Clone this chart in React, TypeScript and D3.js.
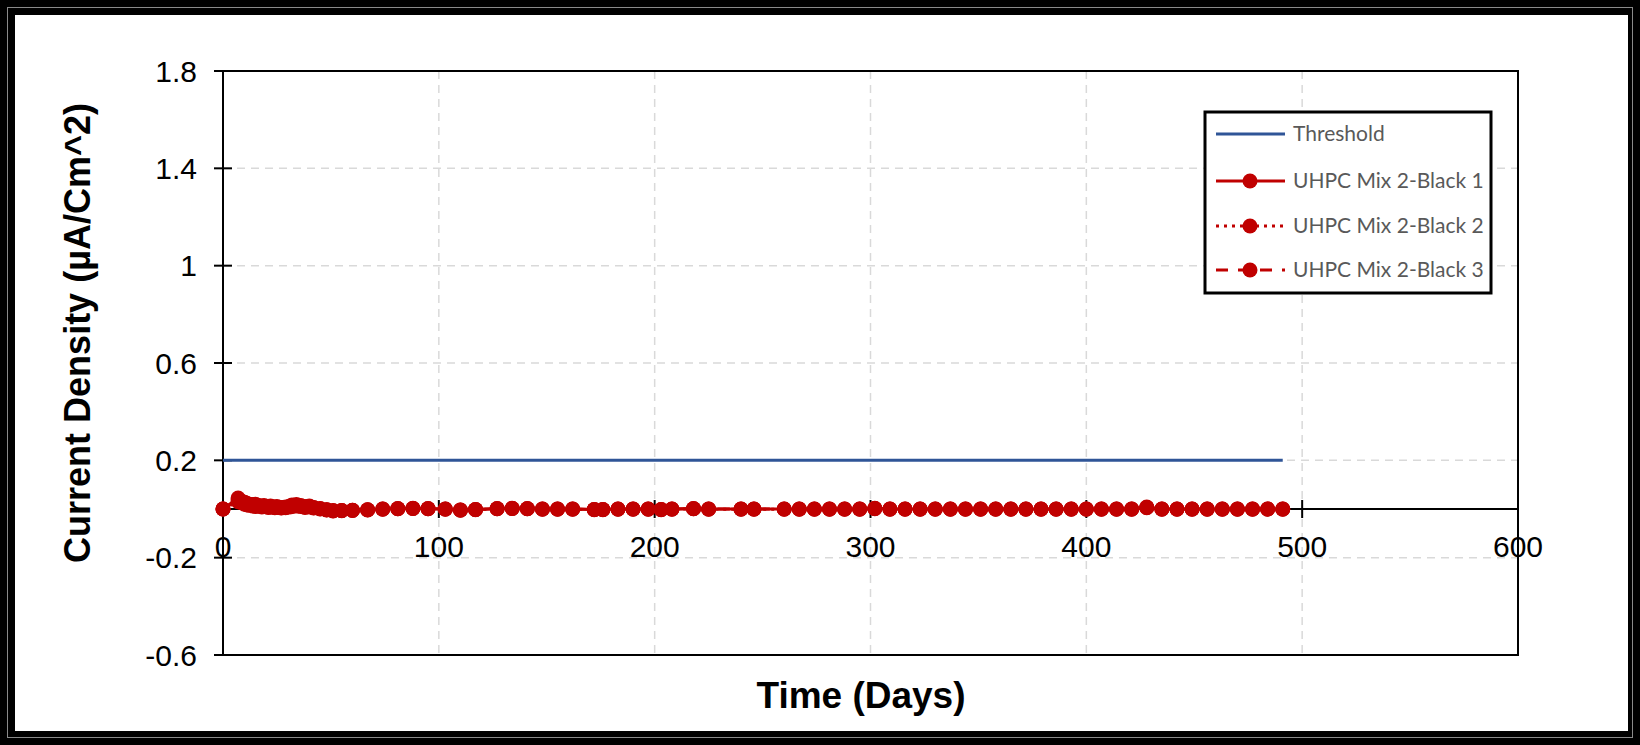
import React, { useRef, useEffect, useCallback } from 'react'
import * as d3 from 'd3'

const days = [0, 7, 8, 9, 10, 11, 12, 14, 15, 16, 18, 19, 21, 22, 24, 25, 27, 29, 31, 32,
    34, 36, 38, 40, 42, 45, 48, 51, 55, 60, 67, 74, 81, 88, 95, 103, 110, 117, 127, 134,
    141, 148, 155, 162, 172, 176, 183, 190, 197, 203, 208, 218, 225, 240, 246, 260, 267, 274, 281, 288,
    295, 302, 309, 316, 323, 330, 337, 344, 351, 358, 365, 372, 379, 386, 393, 400, 407, 414, 421, 428,
    435, 442, 449, 456, 463, 470, 477, 484, 491]

const black1 = [0, 0.045, 0.035, 0.03, 0.028, 0.024, 0.02, 0.018, 0.02, 0.015, 0.012, 0.014, 0.01, 0.012, 0.008, 0.01, 0.006, 0.008, 0.012, 0.016,
    0.018, 0.014, 0.01, 0.012, 0.006, 0.002, -0.003, -0.006, -0.006, -0.005, -0.003, 0, 0.002, 0.003, 0.002, 0, -0.004, -0.002, 0.002, 0.003,
    0.002, 0, 0, 0, -0.002, -0.002, 0, 0, 0, -0.002, 0, 0.002, 0, 0, 0, 0, 0, 0, 0, 0,
    0, 0.003, 0, 0, 0, 0, 0, 0, 0, 0, 0, 0, 0, 0, 0, 0, 0, 0, 0, 0.008,
    0, 0, 0, 0, 0, 0, 0, 0, 0]

const black2 = [0, 0.03, 0.028, 0.025, 0.02, 0.018, 0.015, 0.012, 0.01, 0.012, 0.008, 0.01, 0.006, 0.008, 0.005, 0.006, 0.004, 0.005, 0.008, 0.01,
    0.012, 0.01, 0.006, 0.008, 0.004, 0, -0.004, -0.008, -0.007, -0.006, -0.004, -0.001, 0.001, 0.002, 0.001, -0.001, -0.005, -0.003, 0.001, 0.002,
    0.001, -0.001, -0.001, -0.001, -0.003, -0.003, -0.001, -0.001, -0.001, -0.003, -0.001, 0.001, -0.001, -0.001, -0.001, -0.001, -0.001, -0.001, -0.001, -0.001,
    -0.001, 0.001, -0.001, -0.001, -0.001, -0.001, -0.001, -0.001, -0.001, -0.001, -0.001, -0.001, -0.001, -0.001, -0.001, -0.001, -0.001, -0.001, -0.001, 0.005,
    -0.001, -0.001, -0.001, -0.001, -0.001, -0.001, -0.001, -0.001, -0.001]

const black3 = [0, 0.038, 0.032, 0.026, 0.022, 0.02, 0.017, 0.015, 0.014, 0.013, 0.01, 0.011, 0.008, 0.009, 0.006, 0.007, 0.005, 0.006, 0.01, 0.013,
    0.015, 0.012, 0.008, 0.01, 0.005, 0.001, -0.003, -0.007, -0.006, -0.005, -0.003, 0, 0.001, 0.002, 0.001, 0, -0.004, -0.002, 0.001, 0.002,
    0.001, 0, 0, 0, -0.002, -0.002, 0, 0, 0, -0.002, 0, 0.001, 0, 0, 0, 0, 0, 0, 0, 0,
    0, 0.002, 0, 0, 0, 0, 0, 0, 0, 0, 0, 0, 0, 0, 0, 0, 0, 0, 0, 0.006,
    0, 0, 0, 0, 0, 0, 0, 0, 0]

const thresholdDays = [0, 491]
const thresholdValues = [0.2, 0.2]

const xTicks = [0, 100, 200, 300, 400, 500, 600]
const yTicks = [-0.6, -0.2, 0.2, 0.6, 1, 1.4, 1.8]

const seriesNames = ['Threshold', 'UHPC Mix 2-Black 1', 'UHPC Mix 2-Black 2', 'UHPC Mix 2-Black 3']

const RED = '#C00000'
const BLUE = '#2F5597'

const App = () => {
    const chartRef = useRef(null)

    const drawChart = useCallback(() => {
        if (!chartRef.current) return
        const width = 1640
        const height = 745

        const svg = d3.select(chartRef.current)
            .append('svg')
            .attr('width', width)
            .attr('height', height)
            .style('display', 'block')

        // outer frame
        svg.append('rect').attr('width', width).attr('height', height).attr('fill', '#000')
        svg.append('rect')
            .attr('x', 7.5).attr('y', 7.5).attr('width', width - 15).attr('height', height - 15)
            .attr('fill', 'none').attr('stroke', '#8a8a8a').attr('stroke-width', 1)
        svg.append('rect')
            .attr('x', 15).attr('y', 15).attr('width', 1613).attr('height', 716)
            .attr('fill', '#fff')

        const left = 223, right = 1518, top = 71, bottom = 655

        const x = d3.scaleLinear().domain([0, 600]).range([left, right])
        const y = d3.scaleLinear().domain([-0.6, 1.8]).range([bottom, top])

        // grid
        svg.append('g')
            .selectAll('line')
            .data(xTicks.filter(d => d > 0 && d < 600))
            .join('line')
            .attr('x1', d => x(d)).attr('x2', d => x(d))
            .attr('y1', top).attr('y2', bottom)
            .attr('stroke', '#d9d9d9').attr('stroke-width', 1.5)
            .attr('stroke-dasharray', '8,6')

        svg.append('g')
            .selectAll('line')
            .data(yTicks.filter(d => d > -0.6 && d < 1.8))
            .join('line')
            .attr('x1', left).attr('x2', right)
            .attr('y1', d => y(d)).attr('y2', d => y(d))
            .attr('stroke', '#d9d9d9').attr('stroke-width', 1.5)
            .attr('stroke-dasharray', '8,6')

        // plot border
        svg.append('rect')
            .attr('x', left).attr('y', top).attr('width', right - left).attr('height', bottom - top)
            .attr('fill', 'none').attr('stroke', '#000').attr('stroke-width', 2)

        // y axis ticks + labels
        svg.append('g')
            .selectAll('line')
            .data(yTicks)
            .join('line')
            .attr('x1', left - 9).attr('x2', d => (d === 1.8 || d === -0.6) ? left : left + 9)
            .attr('y1', d => y(d)).attr('y2', d => y(d))
            .attr('stroke', '#000').attr('stroke-width', 2)

        svg.append('g')
            .selectAll('text')
            .data(yTicks)
            .join('text')
            .attr('x', 197)
            .attr('y', d => y(d))
            .attr('dy', '0.36em')
            .attr('text-anchor', 'end')
            .attr('font-family', 'Liberation Sans, Arial, sans-serif')
            .attr('font-size', 30)
            .attr('fill', '#000')
            .text(d => String(d))

        // x axis at y = 0
        svg.append('line')
            .attr('x1', left).attr('x2', right)
            .attr('y1', y(0)).attr('y2', y(0))
            .attr('stroke', '#000').attr('stroke-width', 2)

        svg.append('g')
            .selectAll('line')
            .data(xTicks.filter(d => d < 600))
            .join('line')
            .attr('x1', d => x(d)).attr('x2', d => x(d))
            .attr('y1', y(0) - 9).attr('y2', y(0) + 9)
            .attr('stroke', '#000').attr('stroke-width', 2)

        svg.append('g')
            .selectAll('text')
            .data(xTicks)
            .join('text')
            .attr('x', d => x(d))
            .attr('y', 546)
            .attr('dy', '0.36em')
            .attr('text-anchor', 'middle')
            .attr('font-family', 'Liberation Sans, Arial, sans-serif')
            .attr('font-size', 30)
            .attr('fill', '#000')
            .text(d => d)

        // threshold
        const thrLine = d3.line<number>()
            .x((d, i) => x(thresholdDays[i]))
            .y(d => y(d))
        svg.append('path')
            .datum(thresholdValues)
            .attr('fill', 'none')
            .attr('stroke', BLUE)
            .attr('stroke-width', 3)
            .attr('d', thrLine)

        // red series
        const redLine = d3.line<number>()
            .x((d, i) => x(days[i]))
            .y(d => y(d))

        const series = [
            { values: black1, dash: null },
            { values: black2, dash: '3,5' },
            { values: black3, dash: '12,8' },
        ]

        series.forEach(s => {
            svg.append('path')
                .datum(s.values)
                .attr('fill', 'none')
                .attr('stroke', RED)
                .attr('stroke-width', 3)
                .attr('stroke-dasharray', s.dash)
                .attr('d', redLine)
        })

        series.forEach(s => {
            svg.append('g')
                .selectAll('circle')
                .data(s.values)
                .join('circle')
                .attr('cx', (d, i) => x(days[i]))
                .attr('cy', d => y(d))
                .attr('r', 7.5)
                .attr('fill', RED)
        })

        // axis titles
        svg.append('text')
            .attr('transform', 'translate(90, 333) rotate(-90)')
            .attr('text-anchor', 'middle')
            .attr('font-family', 'Liberation Sans, Arial, sans-serif')
            .attr('font-weight', 'bold')
            .attr('font-size', 36)
            .attr('fill', '#000')
            .text('Current Density (µA/Cm^2)')

        svg.append('text')
            .attr('x', 861)
            .attr('y', 708)
            .attr('text-anchor', 'middle')
            .attr('font-family', 'Liberation Sans, Arial, sans-serif')
            .attr('font-weight', 'bold')
            .attr('font-size', 37)
            .attr('fill', '#000')
            .text('Time (Days)')

        // legend
        const legend = svg.append('g')
        legend.append('rect')
            .attr('x', 1205).attr('y', 112).attr('width', 286).attr('height', 181)
            .attr('fill', '#fff').attr('stroke', '#000').attr('stroke-width', 3)

        const rows = [134, 181, 226, 270]
        const styles = [
            { color: BLUE, dash: null, marker: false },
            { color: RED, dash: null, marker: true },
            { color: RED, dash: '3,5', marker: true },
            { color: RED, dash: '12,10', marker: true },
        ]
        seriesNames.forEach((name, i) => {
            const g = legend.append('g').attr('transform', `translate(0, ${rows[i]})`)
            g.append('line')
                .attr('x1', 1216).attr('x2', 1285)
                .attr('y1', 0).attr('y2', 0)
                .attr('stroke', styles[i].color)
                .attr('stroke-width', 3)
                .attr('stroke-dasharray', styles[i].dash)
            if (styles[i].marker)
                g.append('circle').attr('cx', 1250).attr('cy', 0).attr('r', 7.5).attr('fill', RED)
            g.append('text')
                .attr('x', 1293)
                .attr('y', 0)
                .attr('dy', '0.35em')
                .attr('font-family', 'Lato, sans-serif')
                .attr('font-size', 21)
                .attr('fill', '#595959')
                .text(name)
        })
    }, [])

    const destroyChart = useCallback(() => {
        if (chartRef.current) {
            d3.select(chartRef.current).select('svg').remove()
        }
    }, [])

    useEffect(() => {
        document.body.style.margin = '0'
        drawChart()
        return () => destroyChart()
    }, [drawChart, destroyChart])

    return (
        <div ref={chartRef} style={{ width: 1640, height: 745 }}></div>
    )
}

export default App
